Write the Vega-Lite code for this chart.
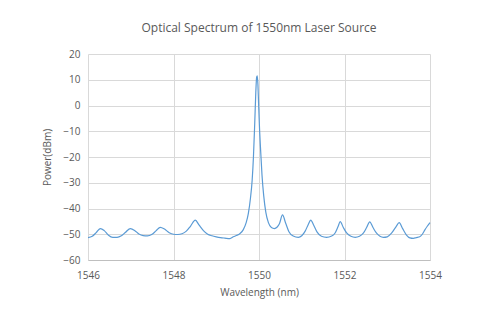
{
  "$schema": "https://vega.github.io/schema/vega-lite/v6.json",
  "width": 342,
  "height": 206,
  "autosize": {"type": "none"},
  "padding": {"left": 88, "top": 54, "right": 68, "bottom": 68},
  "background": "white",
  "title": {
    "text": "Optical Spectrum of 1550nm Laser Source",
    "font": "Open Sans",
    "fontSize": 12,
    "fontWeight": "normal",
    "color": "#595959",
    "offset": 14
  },
  "config": {
    "view": {"stroke": null},
    "axis": {
      "labelFont": "Open Sans",
      "labelFontSize": 10,
      "labelColor": "#595959",
      "titleFont": "Open Sans",
      "titleFontSize": 10,
      "titleFontWeight": "normal",
      "titleColor": "#595959",
      "gridColor": "#d9d9d9",
      "gridWidth": 1,
      "ticks": false
    }
  },
  "data": {
    "values": [
      {"wl": 1546.0, "p": -51.3}, {"wl": 1546.1, "p": -50.8}, {"wl": 1546.2, "p": -49.2},
      {"wl": 1546.29, "p": -47.8}, {"wl": 1546.38, "p": -48.6}, {"wl": 1546.48, "p": -50.4},
      {"wl": 1546.58, "p": -51.2}, {"wl": 1546.68, "p": -51.2}, {"wl": 1546.78, "p": -50.6},
      {"wl": 1546.88, "p": -49.2}, {"wl": 1546.99, "p": -47.8}, {"wl": 1547.09, "p": -48.5},
      {"wl": 1547.19, "p": -49.9}, {"wl": 1547.29, "p": -50.5}, {"wl": 1547.39, "p": -50.6},
      {"wl": 1547.49, "p": -50.1}, {"wl": 1547.59, "p": -48.7}, {"wl": 1547.69, "p": -47.3},
      {"wl": 1547.79, "p": -48.0}, {"wl": 1547.9, "p": -49.4}, {"wl": 1548.0, "p": -50.0},
      {"wl": 1548.1, "p": -50.1}, {"wl": 1548.2, "p": -49.8}, {"wl": 1548.3, "p": -48.8},
      {"wl": 1548.4, "p": -46.8}, {"wl": 1548.51, "p": -44.5}, {"wl": 1548.6, "p": -46.5},
      {"wl": 1548.7, "p": -48.6}, {"wl": 1548.8, "p": -50.0}, {"wl": 1548.9, "p": -50.6},
      {"wl": 1549.0, "p": -51.0}, {"wl": 1549.1, "p": -51.3}, {"wl": 1549.2, "p": -51.5},
      {"wl": 1549.32, "p": -51.7}, {"wl": 1549.4, "p": -51.0}, {"wl": 1549.47, "p": -50.5},
      {"wl": 1549.55, "p": -49.8}, {"wl": 1549.63, "p": -48.3}, {"wl": 1549.7, "p": -45.5},
      {"wl": 1549.75, "p": -42.0}, {"wl": 1549.8, "p": -36.0}, {"wl": 1549.84, "p": -29.0},
      {"wl": 1549.87, "p": -20.0}, {"wl": 1549.9, "p": -7.0}, {"wl": 1549.925, "p": 5.0},
      {"wl": 1549.945, "p": 11.0}, {"wl": 1549.96, "p": 11.5}, {"wl": 1549.975, "p": 8.0},
      {"wl": 1549.99, "p": 1.0}, {"wl": 1550.01, "p": -8.0}, {"wl": 1550.04, "p": -18.0},
      {"wl": 1550.07, "p": -27.0}, {"wl": 1550.11, "p": -35.0}, {"wl": 1550.16, "p": -41.5},
      {"wl": 1550.22, "p": -45.5}, {"wl": 1550.29, "p": -47.4}, {"wl": 1550.36, "p": -47.8},
      {"wl": 1550.42, "p": -47.3}, {"wl": 1550.48, "p": -45.8}, {"wl": 1550.55, "p": -42.5},
      {"wl": 1550.62, "p": -45.5}, {"wl": 1550.7, "p": -49.0}, {"wl": 1550.8, "p": -50.7},
      {"wl": 1550.92, "p": -51.2}, {"wl": 1551.0, "p": -50.6}, {"wl": 1551.08, "p": -48.8},
      {"wl": 1551.15, "p": -46.3}, {"wl": 1551.21, "p": -44.5}, {"wl": 1551.28, "p": -46.5},
      {"wl": 1551.36, "p": -49.2}, {"wl": 1551.46, "p": -50.8}, {"wl": 1551.58, "p": -51.2},
      {"wl": 1551.7, "p": -50.7}, {"wl": 1551.78, "p": -49.5}, {"wl": 1551.85, "p": -47.0},
      {"wl": 1551.9, "p": -45.1}, {"wl": 1551.97, "p": -47.3}, {"wl": 1552.05, "p": -49.5},
      {"wl": 1552.15, "p": -50.8}, {"wl": 1552.25, "p": -51.2}, {"wl": 1552.35, "p": -50.8},
      {"wl": 1552.44, "p": -49.6}, {"wl": 1552.52, "p": -47.3}, {"wl": 1552.59, "p": -45.2},
      {"wl": 1552.67, "p": -47.5}, {"wl": 1552.75, "p": -49.6}, {"wl": 1552.83, "p": -50.8},
      {"wl": 1552.91, "p": -51.2}, {"wl": 1553.0, "p": -51.0}, {"wl": 1553.1, "p": -49.6},
      {"wl": 1553.2, "p": -47.2}, {"wl": 1553.28, "p": -45.5}, {"wl": 1553.36, "p": -47.8},
      {"wl": 1553.45, "p": -50.3}, {"wl": 1553.53, "p": -51.4}, {"wl": 1553.61, "p": -51.6},
      {"wl": 1553.68, "p": -51.3}, {"wl": 1553.76, "p": -51.0}, {"wl": 1553.82, "p": -50.0},
      {"wl": 1553.88, "p": -48.3}, {"wl": 1553.94, "p": -46.8}, {"wl": 1554.0, "p": -45.5}
    ]
  },
  "mark": {"type": "line", "color": "#5b9bd5", "strokeWidth": 1.2, "interpolate": "monotone"},
  "encoding": {
    "x": {
      "field": "wl",
      "type": "quantitative",
      "title": "Wavelength (nm)",
      "scale": {"domain": [1546, 1554], "nice": false, "zero": false},
      "axis": {
        "values": [1546, 1548, 1550, 1552, 1554],
        "format": "d",
        "labelFlush": false,
        "domainColor": "#bfbfbf",
        "labelPadding": 10,
        "titlePadding": 7,
        "gridColor": "#d9d9d9"
      }
    },
    "y": {
      "field": "p",
      "type": "quantitative",
      "title": "Power(dBm)",
      "scale": {"domain": [-60, 20], "nice": false, "zero": false},
      "axis": {
        "values": [-60, -50, -40, -30, -20, -10, 0, 10, 20],
        "domain": false,
        "labelPadding": 8,
        "titlePadding": 10
      }
    }
  }
}
